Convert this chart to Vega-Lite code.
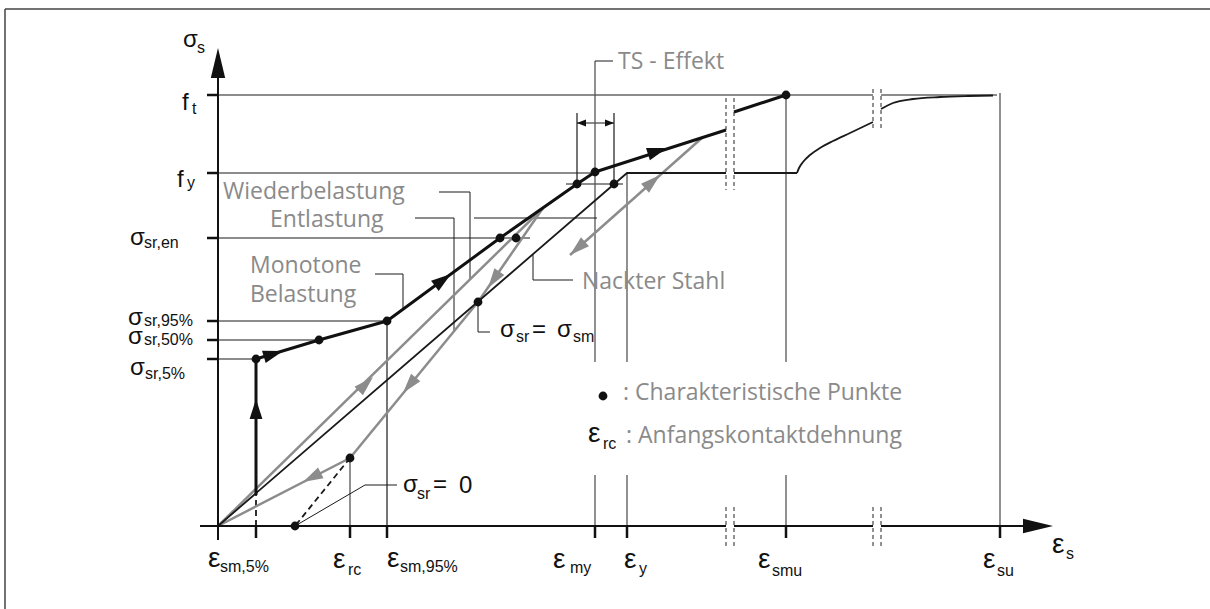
{
  "$schema": "https://vega.github.io/schema/vega-lite/v6.json",
  "width": 1210,
  "height": 609,
  "padding": 0,
  "autosize": {"type": "none"},
  "background": "white",
  "config": {"view": {"stroke": null}},
  "datasets": {
    "frame": [
      {"x": -213, "y": 517, "x2": -213, "y2": -83},
      {"x": -213, "y": 517, "x2": 992, "y2": 517}
    ],
    "axes": [
      {"x": 0, "y": -14, "x2": 0, "y2": 449},
      {"x": -18, "y": 0, "x2": 508, "y2": 0},
      {"x": 516, "y": 0, "x2": 655, "y2": 0},
      {"x": 663, "y": 0, "x2": 807, "y2": 0}
    ],
    "ticks": [
      {"x": -11, "y": 431, "x2": 0, "y2": 431},
      {"x": -11, "y": 353, "x2": 0, "y2": 353},
      {"x": -11, "y": 288, "x2": 0, "y2": 288},
      {"x": -11, "y": 205, "x2": 0, "y2": 205},
      {"x": -11, "y": 186, "x2": 0, "y2": 186},
      {"x": -11, "y": 167, "x2": 0, "y2": 167},
      {"x": 38, "y": 0, "x2": 38, "y2": -12},
      {"x": 132, "y": 0, "x2": 132, "y2": -12},
      {"x": 169, "y": 0, "x2": 169, "y2": -12},
      {"x": 377, "y": 0, "x2": 377, "y2": -12},
      {"x": 409, "y": 0, "x2": 409, "y2": -12},
      {"x": 568, "y": 0, "x2": 568, "y2": -12},
      {"x": 782, "y": 0, "x2": 782, "y2": -12}
    ],
    "refBlack": [
      {"x": 0, "y": 431, "x2": 655, "y2": 431},
      {"x": 663, "y": 431, "x2": 779, "y2": 431},
      {"x": 0, "y": 353, "x2": 377, "y2": 353},
      {"x": 0, "y": 288, "x2": 312, "y2": 288},
      {"x": 0, "y": 205, "x2": 169, "y2": 205},
      {"x": 0, "y": 186, "x2": 101, "y2": 186},
      {"x": 0, "y": 167, "x2": 38, "y2": 167},
      {"x": 348, "y": 342, "x2": 405, "y2": 342},
      {"x": 169, "y": 205, "x2": 169, "y2": 0},
      {"x": 359, "y": 413, "x2": 359, "y2": 342},
      {"x": 396, "y": 413, "x2": 396, "y2": 342},
      {"x": 359, "y": 403, "x2": 396, "y2": 403}
    ],
    "refGray": [
      {"x": 132, "y": 68, "x2": 132, "y2": 0},
      {"x": 377, "y": 465, "x2": 377, "y2": 164},
      {"x": 377, "y": 51, "x2": 377, "y2": 0},
      {"x": 409, "y": 353, "x2": 409, "y2": 164},
      {"x": 409, "y": 51, "x2": 409, "y2": 0},
      {"x": 568, "y": 431, "x2": 568, "y2": 164},
      {"x": 568, "y": 51, "x2": 568, "y2": 0},
      {"x": 782, "y": 433, "x2": 782, "y2": 0}
    ],
    "leaders": [
      {"x": 157, "y": 252, "x2": 185, "y2": 252},
      {"x": 185, "y": 252, "x2": 185, "y2": 216},
      {"x": 221, "y": 334, "x2": 252, "y2": 334},
      {"x": 252, "y": 334, "x2": 252, "y2": 246},
      {"x": 197, "y": 308, "x2": 236, "y2": 308},
      {"x": 236, "y": 308, "x2": 236, "y2": 195},
      {"x": 256, "y": 308, "x2": 379, "y2": 308},
      {"x": 315, "y": 271, "x2": 315, "y2": 246},
      {"x": 315, "y": 246, "x2": 355, "y2": 246},
      {"x": 260, "y": 224, "x2": 260, "y2": 194},
      {"x": 260, "y": 194, "x2": 272, "y2": 194},
      {"x": 77, "y": 0, "x2": 147, "y2": 41},
      {"x": 147, "y": 41, "x2": 179, "y2": 41},
      {"x": 377, "y": 465, "x2": 395, "y2": 465}
    ],
    "breaks": [
      {"x": 508, "y": 19, "x2": 508, "y2": -21},
      {"x": 516, "y": 19, "x2": 516, "y2": -21},
      {"x": 655, "y": 19, "x2": 655, "y2": -21},
      {"x": 663, "y": 19, "x2": 663, "y2": -21},
      {"x": 508, "y": 428, "x2": 508, "y2": 336},
      {"x": 516, "y": 428, "x2": 516, "y2": 336},
      {"x": 655, "y": 437, "x2": 655, "y2": 398},
      {"x": 663, "y": 437, "x2": 663, "y2": 398}
    ],
    "dashed": [
      {"x": 38, "y": 0, "x2": 38, "y2": 31},
      {"x": 132, "y": 68, "x2": 77, "y2": 0}
    ],
    "grayPaths": [
      {"x": 0, "y": 0, "x2": 325, "y2": 318},
      {"x": 325, "y": 318, "x2": 260, "y2": 224},
      {"x": 260, "y": 224, "x2": 132, "y2": 68},
      {"x": 132, "y": 68, "x2": 0, "y2": 0},
      {"x": 352, "y": 271, "x2": 485, "y2": 389}
    ],
    "monotone": [
      {"s": "a", "i": 0, "x": 38, "y": 31},
      {"s": "a", "i": 1, "x": 38, "y": 167},
      {"s": "a", "i": 2, "x": 101, "y": 186},
      {"s": "a", "i": 3, "x": 169, "y": 205},
      {"s": "a", "i": 4, "x": 282, "y": 288},
      {"s": "a", "i": 5, "x": 359, "y": 342},
      {"s": "a", "i": 6, "x": 377, "y": 354},
      {"s": "a", "i": 7, "x": 508, "y": 396},
      {"s": "b", "i": 0, "x": 516, "y": 414},
      {"s": "b", "i": 1, "x": 568, "y": 431}
    ],
    "steel": [
      {"s": "a", "i": 0, "x": 0, "y": 0},
      {"s": "a", "i": 1, "x": 409, "y": 353},
      {"s": "a", "i": 2, "x": 508, "y": 353},
      {"s": "b", "i": 0, "x": 516, "y": 353},
      {"s": "b", "i": 1, "x": 579, "y": 353}
    ],
    "steelCurve": [
      {"s": "b", "x": 579, "y": 353},
      {"s": "b", "x": 581, "y": 358},
      {"s": "b", "x": 585, "y": 364},
      {"s": "b", "x": 592, "y": 371},
      {"s": "b", "x": 602, "y": 378},
      {"s": "b", "x": 615, "y": 385},
      {"s": "b", "x": 632, "y": 393},
      {"s": "b", "x": 655, "y": 404},
      {"s": "c", "x": 663, "y": 417},
      {"s": "c", "x": 675, "y": 423},
      {"s": "c", "x": 695, "y": 427},
      {"s": "c", "x": 722, "y": 429},
      {"s": "c", "x": 750, "y": 430},
      {"s": "c", "x": 775, "y": 430.5}
    ],
    "arrBlack": [
      {"x": 38, "y": 127, "dx": 0, "dy": 1},
      {"x": 65, "y": 175, "dx": 63, "dy": 19},
      {"x": 233, "y": 252, "dx": 113, "dy": 83},
      {"x": 449, "y": 378, "dx": 131, "dy": 42}
    ],
    "arrGray": [
      {"x": 155, "y": 149, "dx": 325, "dy": 318},
      {"x": 270, "y": 238, "dx": -65, "dy": -94},
      {"x": 185, "y": 133, "dx": -128, "dy": -156},
      {"x": 85, "y": 44, "dx": -132, "dy": -68},
      {"x": 352, "y": 271, "dx": -133, "dy": -118},
      {"x": 442, "y": 351, "dx": 133, "dy": 118}
    ],
    "arrAxis": [
      {"x": 0, "y": 478, "dx": 0, "dy": 1},
      {"x": 835, "y": 0, "dx": 1, "dy": 0}
    ],
    "arrSmall": [
      {"x": 359, "y": 403, "dx": -1, "dy": 0},
      {"x": 396, "y": 403, "dx": 1, "dy": 0}
    ],
    "dots": [
      {"x": 38, "y": 167},
      {"x": 101, "y": 186},
      {"x": 169, "y": 205},
      {"x": 282, "y": 288},
      {"x": 298, "y": 288},
      {"x": 359, "y": 342},
      {"x": 377, "y": 354},
      {"x": 396, "y": 342},
      {"x": 260, "y": 224},
      {"x": 132, "y": 68},
      {"x": 77, "y": 0},
      {"x": 568, "y": 431},
      {"x": 385, "y": 130}
    ],
    "notes": [
      {"x": 400, "y": 457, "t": "TS - Effekt"},
      {"x": 5, "y": 327, "t": "Wiederbelastung"},
      {"x": 52, "y": 299, "t": "Entlastung"},
      {"x": 32, "y": 253, "t": "Monotone"},
      {"x": 32, "y": 224, "t": "Belastung"},
      {"x": 364, "y": 237, "t": "Nackter Stahl"},
      {"x": 405, "y": 126, "t": ": Charakteristische Punkte"},
      {"x": 408, "y": 83, "t": ": Anfangskontaktdehnung"}
    ],
    "symbols": [
      {"x": -35, "y": 479, "t": "σ"},
      {"x": -36, "y": 416, "t": "f"},
      {"x": -41, "y": 339, "t": "f"},
      {"x": -88, "y": 281, "t": "σ"},
      {"x": -90, "y": 201, "t": "σ"},
      {"x": -90, "y": 182, "t": "σ"},
      {"x": -88, "y": 151, "t": "σ"},
      {"x": 282, "y": 189, "t": "σ"},
      {"x": 314, "y": 189, "t": "="},
      {"x": 339, "y": 189, "t": "σ"},
      {"x": 185, "y": 34, "t": "σ"},
      {"x": 215, "y": 34, "t": "="},
      {"x": 241, "y": 33, "t": "0"}
    ],
    "epsilons": [
      {"x": -10, "y": -41, "t": "ε"},
      {"x": 115, "y": -42, "t": "ε"},
      {"x": 169, "y": -41, "t": "ε"},
      {"x": 335, "y": -42, "t": "ε"},
      {"x": 406, "y": -42, "t": "ε"},
      {"x": 540, "y": -42, "t": "ε"},
      {"x": 765, "y": -42, "t": "ε"},
      {"x": 834, "y": -27, "t": "ε"},
      {"x": 370, "y": 84, "t": "ε"}
    ],
    "subscripts": [
      {"x": -21, "y": 473, "t": "s"},
      {"x": -26, "y": 412, "t": "t"},
      {"x": -31, "y": 338, "t": "y"},
      {"x": -74, "y": 278, "t": "sr,en"},
      {"x": -74, "y": 200, "t": "sr,95%"},
      {"x": -74, "y": 181, "t": "sr,50%"},
      {"x": -73, "y": 147, "t": "sr,5%"},
      {"x": 2, "y": -46, "t": "sm,5%"},
      {"x": 130, "y": -49, "t": "rc"},
      {"x": 182, "y": -46, "t": "sm,95%"},
      {"x": 352, "y": -47, "t": "my"},
      {"x": 421, "y": -48, "t": "y"},
      {"x": 554, "y": -50, "t": "smu"},
      {"x": 779, "y": -50, "t": "su"},
      {"x": 848, "y": -33, "t": "s"},
      {"x": 298, "y": 184, "t": "sr"},
      {"x": 355, "y": 184, "t": "sm"},
      {"x": 199, "y": 27, "t": "sr"},
      {"x": 385, "y": 77, "t": "rc"}
    ]
  },
  "encoding": {
    "x": {"field": "x", "type": "quantitative", "scale": {"domain": [-218, 992], "nice": false, "zero": false}, "axis": null},
    "y": {"field": "y", "type": "quantitative", "scale": {"domain": [-83, 526], "nice": false, "zero": false}, "axis": null}
  },
  "layer": [
    {"data": {"name": "frame"}, "mark": {"type": "rule", "color": "#444444", "strokeWidth": 1.5}, "encoding": {"x2": {"field": "x2"}, "y2": {"field": "y2"}}},
    {"data": {"name": "refBlack"}, "mark": {"type": "rule", "color": "#1a1a1a", "strokeWidth": 1.2}, "encoding": {"x2": {"field": "x2"}, "y2": {"field": "y2"}}},
    {"data": {"name": "refGray"}, "mark": {"type": "rule", "color": "#555555", "strokeWidth": 1.3}, "encoding": {"x2": {"field": "x2"}, "y2": {"field": "y2"}}},
    {"data": {"name": "leaders"}, "mark": {"type": "rule", "color": "#1a1a1a", "strokeWidth": 1}, "encoding": {"x2": {"field": "x2"}, "y2": {"field": "y2"}}},
    {"data": {"name": "breaks"}, "mark": {"type": "rule", "color": "#222222", "strokeWidth": 1, "strokeDash": [4, 3]}, "encoding": {"x2": {"field": "x2"}, "y2": {"field": "y2"}}},
    {"data": {"name": "dashed"}, "mark": {"type": "rule", "color": "#1a1a1a", "strokeWidth": 1.8, "strokeDash": [6, 4]}, "encoding": {"x2": {"field": "x2"}, "y2": {"field": "y2"}}},
    {"data": {"name": "grayPaths"}, "mark": {"type": "rule", "color": "#8c8c8c", "strokeWidth": 2.5}, "encoding": {"x2": {"field": "x2"}, "y2": {"field": "y2"}}},
    {"data": {"name": "steel"}, "mark": {"type": "line", "color": "#1a1a1a", "strokeWidth": 1.8, "strokeJoin": "miter"}, "encoding": {"detail": {"field": "s"}, "order": {"field": "i"}}},
    {"data": {"name": "steelCurve"}, "mark": {"type": "line", "color": "#1a1a1a", "strokeWidth": 1.8, "interpolate": "monotone"}, "encoding": {"detail": {"field": "s"}}},
    {"data": {"name": "monotone"}, "mark": {"type": "line", "color": "#111111", "strokeWidth": 3, "strokeJoin": "round"}, "encoding": {"detail": {"field": "s"}, "order": {"field": "i"}}},
    {"data": {"name": "axes"}, "mark": {"type": "rule", "color": "#111111", "strokeWidth": 2}, "encoding": {"x2": {"field": "x2"}, "y2": {"field": "y2"}}},
    {"data": {"name": "ticks"}, "mark": {"type": "rule", "color": "#111111", "strokeWidth": 2.5}, "encoding": {"x2": {"field": "x2"}, "y2": {"field": "y2"}}},
    {
      "data": {"name": "arrBlack"},
      "transform": [{"calculate": "atan2(-datum.dy, datum.dx) * 180 / PI", "as": "ang"}],
      "mark": {"type": "point", "shape": "M0,0L-1,-0.32L-1,0.32Z", "size": 1600, "filled": true, "opacity": 1, "color": "#111111", "strokeWidth": 0},
      "encoding": {"angle": {"field": "ang", "type": "quantitative", "scale": null}}
    },
    {
      "data": {"name": "arrGray"},
      "transform": [{"calculate": "atan2(-datum.dy, datum.dx) * 180 / PI", "as": "ang"}],
      "mark": {"type": "point", "shape": "M0,0L-1,-0.3L-1,0.3Z", "size": 1600, "filled": true, "opacity": 1, "color": "#8c8c8c", "strokeWidth": 0},
      "encoding": {"angle": {"field": "ang", "type": "quantitative", "scale": null}}
    },
    {
      "data": {"name": "arrAxis"},
      "transform": [{"calculate": "atan2(-datum.dy, datum.dx) * 180 / PI", "as": "ang"}],
      "mark": {"type": "point", "shape": "M0,0L-1,-0.24L-1,0.24Z", "size": 3600, "filled": true, "opacity": 1, "color": "#111111", "strokeWidth": 0},
      "encoding": {"angle": {"field": "ang", "type": "quantitative", "scale": null}}
    },
    {
      "data": {"name": "arrSmall"},
      "transform": [{"calculate": "atan2(-datum.dy, datum.dx) * 180 / PI", "as": "ang"}],
      "mark": {"type": "point", "shape": "M0,0L-1,-0.4L-1,0.4Z", "size": 324, "filled": true, "opacity": 1, "color": "#111111", "strokeWidth": 0},
      "encoding": {"angle": {"field": "ang", "type": "quantitative", "scale": null}}
    },
    {"data": {"name": "dots"}, "mark": {"type": "point", "shape": "circle", "size": 78, "filled": true, "opacity": 1, "color": "#111111", "strokeWidth": 0}},
    {"data": {"name": "notes"}, "mark": {"type": "text", "align": "left", "baseline": "alphabetic", "font": "Open Sans", "fontSize": 23, "color": "#8a8a8a"}, "encoding": {"text": {"field": "t"}}},
    {"data": {"name": "symbols"}, "mark": {"type": "text", "align": "left", "baseline": "alphabetic", "font": "Liberation Sans", "fontSize": 24, "color": "#111111"}, "encoding": {"text": {"field": "t"}}},
    {"data": {"name": "epsilons"}, "mark": {"type": "text", "align": "left", "baseline": "alphabetic", "font": "Liberation Sans", "fontSize": 28, "color": "#111111"}, "encoding": {"text": {"field": "t"}}},
    {"data": {"name": "subscripts"}, "mark": {"type": "text", "align": "left", "baseline": "alphabetic", "font": "Liberation Sans", "fontSize": 16, "color": "#111111"}, "encoding": {"text": {"field": "t"}}}
  ]
}
